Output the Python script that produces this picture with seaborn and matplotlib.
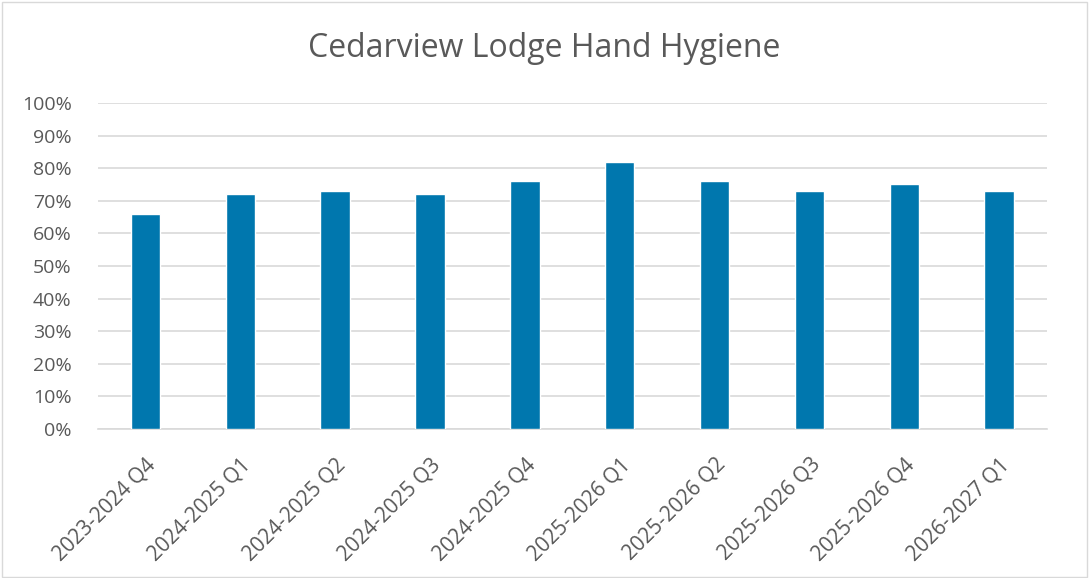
import matplotlib
matplotlib.use("Agg")
import matplotlib.pyplot as plt
import seaborn as sns
import pandas as pd
from matplotlib.ticker import PercentFormatter, MultipleLocator

quarters = ["2023-2024 Q4", "2024-2025 Q1", "2024-2025 Q2", "2024-2025 Q3", "2024-2025 Q4",
            "2025-2026 Q1", "2025-2026 Q2", "2025-2026 Q3", "2025-2026 Q4", "2026-2027 Q1"]
compliance = [66, 72, 73, 72, 76, 82, 76, 73, 75, 73]

df = pd.DataFrame({"quarter": quarters, "pct": compliance})

sns.set_style("white")
plt.rcParams["font.family"] = ["Open Sans", "DejaVu Sans"]
grey = "#595959"

fig = plt.figure(figsize=(10.89, 5.78), dpi=100)
ax = fig.add_axes([0.09, 0.2578, 0.871, 0.564])

sns.barplot(data=df, x="quarter", y="pct", color="#0077AE", width=0.31,
            saturation=1, ax=ax, zorder=3)

ax.set_ylim(0, 100)
ax.yaxis.set_major_locator(MultipleLocator(10))
ax.yaxis.set_major_formatter(PercentFormatter(decimals=0))
ax.grid(axis="y", color="#d9d9d9", linewidth=1.2, zorder=0)
ax.set_xlim(-0.5, len(quarters) - 0.5)
for s in ["top", "right", "left"]:
    ax.spines[s].set_visible(False)
ax.spines["bottom"].set_color("#d9d9d9")
ax.spines["bottom"].set_linewidth(1.2)
ax.tick_params(axis="both", length=0, labelcolor=grey)
ax.tick_params(axis="y", pad=19, labelsize=14)
ax.tick_params(axis="x", pad=18, labelsize=15)
ax.set_xticks(range(len(quarters)))
ax.set_xticklabels(quarters, rotation=45, ha="right", rotation_mode="anchor")
ax.set_xlabel("")
ax.set_ylabel("")

fig.suptitle("Cedarview Lodge Hand Hygiene", y=0.945, fontsize=23, color=grey)

border = plt.Rectangle((0.002, 0.002), 0.996, 0.994, transform=fig.transFigure,
                       fill=False, edgecolor="#d9d9d9", linewidth=1)
fig.add_artist(border)

fig.savefig("out.png", dpi=100)
